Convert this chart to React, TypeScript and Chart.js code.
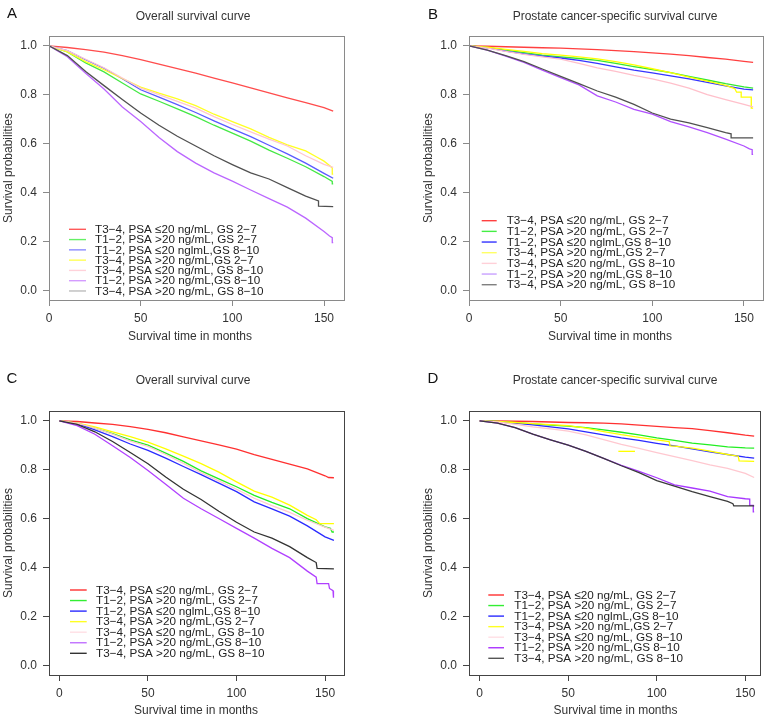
import React, { useEffect, useRef } from "react";
import { Chart, registerables } from "chart.js";

Chart.register(...registerables);

type Pt = [number, number];

// ---------- data ----------
const seriesLabels = [
  "T3−4, PSA ≤20 ng/mL, GS 2−7",
  "T1−2, PSA >20 ng/mL, GS 2−7",
  "T1−2, PSA ≤20 nglmL,GS 8−10",
  "T3−4, PSA >20 ng/mL,GS 2−7",
  "T3−4, PSA ≤20 ng/mL, GS 8−10",
  "T1−2, PSA >20 ng/mL,GS 8−10",
  "T3−4, PSA >20 ng/mL, GS 8−10",
];
const xTicks = [0, 50, 100, 150];
const yTicks = [0, 0.2, 0.4, 0.6, 0.8, 1.0];
const titleOS = "Overall survival curve";
const titlePCSS = "Prostate cancer-specific survival curve";
const xAxisTitle = "Survival time in months";
const yAxisTitle = "Survival probabilities";

// Panel A (overall survival)
const aRed: Pt[] = [[0,1],[10,0.993],[20,0.984],[30,0.974],[40,0.96],[50,0.943],[60,0.925],[70,0.907],[80,0.888],[90,0.868],[100,0.848],[110,0.828],[120,0.807],[130,0.787],[140,0.767],[150,0.747],[155,0.733]];
const aGreen: Pt[] = [[0,1],[10,0.975],[20,0.93],[30,0.893],[40,0.848],[50,0.803],[60,0.773],[70,0.742],[80,0.71],[90,0.675],[100,0.643],[110,0.61],[120,0.573],[130,0.54],[140,0.505],[150,0.465],[154.5,0.445],[154.5,0.435],[155,0.435]];
const aBlue: Pt[] = [[0,1],[10,0.98],[20,0.943],[30,0.908],[40,0.865],[50,0.82],[60,0.79],[70,0.759],[80,0.727],[90,0.693],[100,0.66],[110,0.628],[120,0.593],[130,0.558],[140,0.52],[150,0.478],[155,0.458]];
const aYellow: Pt[] = [[0,1],[10,0.975],[20,0.935],[30,0.902],[40,0.866],[50,0.831],[60,0.806],[70,0.783],[80,0.755],[90,0.72],[100,0.69],[110,0.66],[120,0.625],[130,0.595],[140,0.57],[146,0.545],[150,0.528],[153,0.51],[154.5,0.5],[154.5,0.475],[155,0.475]];
const aPink: Pt[] = [[0,1],[10,0.98],[20,0.945],[30,0.91],[40,0.868],[50,0.827],[60,0.8],[70,0.773],[80,0.745],[90,0.71],[100,0.678],[110,0.648],[120,0.618],[130,0.59],[140,0.55],[150,0.515],[155,0.503]];
const aPurple: Pt[] = [[0,1],[10,0.955],[20,0.888],[30,0.823],[40,0.75],[50,0.69],[60,0.625],[70,0.567],[80,0.52],[90,0.48],[100,0.446],[110,0.41],[120,0.375],[130,0.34],[140,0.295],[150,0.24],[153,0.222],[154.5,0.215],[154.5,0.195],[155,0.195]];
const aBlack: Pt[] = [[0,1],[10,0.96],[20,0.895],[30,0.837],[40,0.78],[50,0.725],[60,0.675],[70,0.63],[80,0.59],[90,0.55],[100,0.514],[110,0.48],[120,0.455],[130,0.42],[140,0.385],[147,0.365],[147,0.344],[155,0.342]];

// Panel B (prostate cancer-specific survival)
const bRed: Pt[] = [[0,1],[10,0.998],[20,0.996],[30,0.994],[40,0.992],[50,0.99],[60,0.987],[70,0.984],[80,0.98],[90,0.976],[100,0.971],[110,0.966],[120,0.96],[130,0.952],[140,0.945],[150,0.936],[155,0.932]];
const bGreen: Pt[] = [[0,1],[10,0.993],[20,0.982],[30,0.972],[40,0.962],[50,0.955],[60,0.948],[70,0.94],[80,0.928],[90,0.915],[100,0.903],[110,0.89],[120,0.875],[130,0.86],[140,0.845],[150,0.832],[155,0.827]];
const bBlue: Pt[] = [[0,1],[10,0.992],[20,0.978],[30,0.967],[40,0.958],[50,0.95],[60,0.94],[70,0.928],[80,0.914],[90,0.9],[100,0.889],[110,0.877],[120,0.865],[130,0.85],[140,0.836],[150,0.823],[155,0.82]];
const bYellow: Pt[] = [[0,1],[10,0.994],[20,0.985],[30,0.977],[40,0.968],[50,0.962],[60,0.955],[70,0.946],[80,0.935],[90,0.922],[100,0.906],[110,0.89],[120,0.872],[130,0.855],[140,0.838],[145,0.825],[146,0.81],[148.5,0.81],[148.5,0.79],[154,0.79],[154,0.745],[155,0.745]];
const bPink: Pt[] = [[0,1],[10,0.99],[20,0.977],[30,0.965],[40,0.955],[50,0.945],[60,0.928],[70,0.91],[80,0.895],[90,0.879],[100,0.865],[110,0.847],[120,0.827],[130,0.8],[140,0.78],[150,0.76],[155,0.75]];
const bPurple: Pt[] = [[0,1],[10,0.982],[20,0.958],[30,0.932],[40,0.9],[50,0.87],[60,0.84],[70,0.795],[80,0.77],[90,0.74],[100,0.72],[110,0.69],[120,0.668],[130,0.645],[140,0.618],[150,0.59],[153,0.578],[154.5,0.575],[154.5,0.556],[155,0.556]];
const bBlack: Pt[] = [[0,1],[10,0.982],[20,0.96],[30,0.935],[40,0.905],[50,0.875],[60,0.845],[70,0.815],[80,0.79],[90,0.76],[100,0.725],[110,0.7],[120,0.685],[130,0.665],[140,0.645],[143,0.64],[143,0.623],[155,0.623]];

// Panel C (overall survival)
const cRed: Pt[] = [[0,1],[10,0.997],[20,0.991],[30,0.985],[40,0.976],[50,0.965],[60,0.951],[70,0.934],[80,0.918],[90,0.901],[100,0.884],[110,0.862],[120,0.842],[130,0.823],[140,0.803],[150,0.775],[152,0.768],[155,0.767]];
const cGreen: Pt[] = [[0,1],[10,0.99],[20,0.97],[30,0.947],[40,0.922],[50,0.9],[60,0.868],[70,0.834],[80,0.795],[90,0.762],[100,0.73],[110,0.695],[120,0.666],[130,0.64],[140,0.6],[150,0.566],[153,0.56],[154,0.545],[155,0.545]];
const cBlue: Pt[] = [[0,1],[10,0.988],[20,0.963],[30,0.935],[40,0.905],[50,0.879],[60,0.847],[70,0.813],[80,0.78],[90,0.745],[100,0.71],[110,0.668],[120,0.64],[130,0.61],[140,0.57],[150,0.525],[155,0.511]];
const cYellow: Pt[] = [[0,1],[10,0.99],[20,0.975],[30,0.955],[40,0.935],[50,0.913],[60,0.885],[70,0.855],[80,0.825],[90,0.79],[100,0.75],[110,0.712],[120,0.688],[130,0.655],[140,0.613],[145,0.595],[147,0.579],[155,0.579]];
const cPink: Pt[] = [[0,1],[10,0.99],[20,0.97],[30,0.945],[40,0.917],[50,0.895],[60,0.862],[70,0.826],[80,0.788],[90,0.754],[100,0.72],[110,0.683],[120,0.653],[130,0.625],[140,0.593],[150,0.565],[155,0.552]];
const cPurple: Pt[] = [[0,1],[10,0.98],[20,0.945],[30,0.898],[40,0.85],[50,0.797],[60,0.74],[70,0.683],[80,0.64],[90,0.6],[100,0.56],[110,0.52],[120,0.478],[130,0.44],[140,0.385],[145,0.36],[145.5,0.334],[152,0.334],[152.5,0.314],[154.5,0.305],[154.5,0.276],[155,0.276]];
const cBlack: Pt[] = [[0,1],[10,0.985],[20,0.955],[30,0.915],[40,0.87],[50,0.824],[60,0.77],[70,0.72],[80,0.678],[90,0.63],[100,0.585],[110,0.545],[120,0.52],[130,0.485],[140,0.44],[145,0.42],[145.5,0.396],[155,0.394]];

// Panel D (prostate cancer-specific survival)
const dRed: Pt[] = [[0,1],[10,0.999],[20,0.998],[30,0.997],[40,0.995],[50,0.993],[60,0.992],[70,0.99],[80,0.987],[90,0.982],[100,0.977],[110,0.972],[120,0.968],[130,0.96],[140,0.951],[150,0.941],[155,0.937]];
const dGreen: Pt[] = [[0,1],[10,0.997],[20,0.992],[30,0.987],[40,0.982],[50,0.978],[60,0.972],[70,0.963],[80,0.953],[90,0.942],[100,0.93],[110,0.92],[120,0.909],[130,0.901],[140,0.893],[150,0.889],[155,0.888]];
const dBlue: Pt[] = [[0,1],[10,0.996],[20,0.99],[30,0.983],[40,0.975],[50,0.967],[60,0.955],[70,0.942],[80,0.93],[90,0.92],[100,0.908],[110,0.897],[120,0.885],[130,0.873],[140,0.862],[150,0.851],[155,0.847]];
const dYellow: Pt[] = [[0,1],[10,0.997],[20,0.993],[30,0.988],[40,0.984],[50,0.98],[60,0.97],[70,0.956],[80,0.943],[90,0.932],[100,0.922],[107,0.915],[107.5,0.897],[110,0.896],[120,0.888],[130,0.876],[140,0.862],[146,0.855],[146.5,0.836],[155,0.834]];
const dYellowFragment: Pt[] = [[78.3,0.875],[87.7,0.875]];
const dPink: Pt[] = [[0,1],[10,0.995],[20,0.985],[30,0.975],[40,0.967],[50,0.958],[60,0.942],[70,0.923],[80,0.903],[90,0.887],[100,0.87],[110,0.853],[120,0.837],[130,0.82],[140,0.805],[150,0.785],[155,0.768]];
const dPurple: Pt[] = [[0,1],[10,0.99],[20,0.972],[30,0.945],[40,0.922],[50,0.9],[60,0.875],[70,0.846],[80,0.818],[90,0.793],[100,0.767],[110,0.738],[120,0.725],[130,0.712],[140,0.69],[150,0.681],[152.5,0.68],[152.5,0.654],[154.5,0.654],[154.5,0.627],[155,0.627]];
const dBlack: Pt[] = [[0,1],[10,0.99],[20,0.972],[30,0.945],[40,0.922],[50,0.9],[60,0.875],[70,0.846],[80,0.816],[90,0.788],[100,0.755],[110,0.733],[120,0.71],[130,0.69],[140,0.67],[143,0.661],[143.5,0.652],[155,0.652]];

// ---------- styling ----------
const FONT = '"Liberation Sans", Arial, Helvetica, sans-serif';

type PanelCfg = {
  left: number; top: number; w: number; h: number;
  letter: string; title: string;
  series: Pt[][]; extra?: { pts: Pt[]; color: string }[];
  curveColors: string[]; legendColors: string[];
  xMin: number; xMax: number;
  padL: number; padR: number; padT: number; yAxisW: number; xAxisH: number;
  boxColor: string;
  letterPos: [number, number]; titlePos: [number, number];
  xTitlePos: [number, number]; yTitlePos: [number, number];
  legend: { x1: number; x2: number; tx: number; y0: number; dy: number };
};

const panels: PanelCfg[] = [
  {
    left: 0, top: 0, w: 382, h: 360, letter: "A", title: titleOS,
    series: [aRed, aGreen, aBlue, aYellow, aPink, aPurple, aBlack],
    curveColors: ["#ff4c4c", "#44e844", "#5a5aff", "#ffff22", "#ffc6d0", "#bb66ff", "#505050"],
    legendColors: ["#ff5a5a", "#66f066", "#8c8cff", "#ffff55", "#ffd2da", "#d49cff", "#bdbdbd"],
    xMin: 0, xMax: 160.9, padL: 0, padR: 38, padT: 36, yAxisW: 49, xAxisH: 60,
    boxColor: "#8a8a8a",
    letterPos: [12, 14], titlePos: [193, 17], xTitlePos: [190, 337], yTitlePos: [9, 168],
    legend: { x1: 69, x2: 86, tx: 95, y0: 229.3, dy: 10.28 },
  },
  {
    left: 382, top: 0, w: 383, h: 360, letter: "B", title: titlePCSS,
    series: [bRed, bGreen, bBlue, bYellow, bPink, bPurple, bBlack],
    curveColors: ["#ff4040", "#33e833", "#3535ff", "#ffff00", "#ffc0cb", "#b050ff", "#505050"],
    legendColors: ["#ff4040", "#44ee44", "#3333ff", "#ffff66", "#ffd0d8", "#c8a0ff", "#808080"],
    xMin: 0, xMax: 160.4, padL: 0, padR: 2, padT: 36, yAxisW: 87, xAxisH: 60,
    boxColor: "#8a8a8a",
    letterPos: [51, 15], titlePos: [233, 17], xTitlePos: [228, 337], yTitlePos: [47, 168],
    legend: { x1: 99.7, x2: 114.7, tx: 124.7, y0: 220.7, dy: 10.67 },
  },
  {
    left: 0, top: 360, w: 382, h: 360, letter: "C", title: titleOS,
    series: [cRed, cGreen, cBlue, cYellow, cPink, cPurple, cBlack],
    curveColors: ["#ff3030", "#22ee22", "#2a2aff", "#ffff00", "#ffc8d0", "#b040ff", "#333333"],
    legendColors: ["#ff3030", "#33ee33", "#2a2aff", "#ffff22", "#ffdfe5", "#c070ff", "#333333"],
    xMin: -5.9, xMax: 160.7, padL: 0, padR: 38, padT: 51, yAxisW: 49, xAxisH: 45,
    boxColor: "#444444",
    letterPos: [12, 18.5], titlePos: [193, 21], xTitlePos: [196, 351], yTitlePos: [9, 183],
    legend: { x1: 70, x2: 86.7, tx: 96, y0: 230, dy: 10.55 },
  },
  {
    left: 382, top: 360, w: 383, h: 360, letter: "D", title: titlePCSS,
    series: [dRed, dGreen, dBlue, dYellow, dPink, dPurple, dBlack],
    extra: [{ pts: dYellowFragment, color: "#ffff00" }],
    curveColors: ["#ff3030", "#22ee22", "#2a2aff", "#ffff00", "#ffc8d0", "#a838ff", "#3a3a3a"],
    legendColors: ["#ff3030", "#33ee33", "#2a2aff", "#ffff22", "#ffdfe5", "#aa33ff", "#555555"],
    xMin: -6.04, xMax: 158.3, padL: 0, padR: 5, padT: 51, yAxisW: 87, xAxisH: 45,
    boxColor: "#444444",
    letterPos: [51, 18.5], titlePos: [233, 21], xTitlePos: [233.5, 351], yTitlePos: [47, 183],
    legend: { x1: 106.3, x2: 122, tx: 132.3, y0: 235, dy: 10.55 },
  },
];

const decorPlugin = {
  id: "panelDecor",
  afterDraw(chart: any, _args: any, opts: any) {
    const cfg: PanelCfg = opts.cfg;
    const ctx = chart.ctx as CanvasRenderingContext2D;
    const ca = chart.chartArea;
    ctx.save();
    // box
    ctx.strokeStyle = cfg.boxColor;
    ctx.lineWidth = 1;
    ctx.strokeRect(ca.left + 0.5, ca.top + 0.5, ca.right - ca.left, ca.bottom - ca.top);
    // texts
    ctx.textAlign = "center";
    ctx.textBaseline = "middle";
    ctx.fillStyle = "#111";
    ctx.font = `15px ${FONT}`;
    ctx.fillText(cfg.letter, cfg.letterPos[0], cfg.letterPos[1]);
    ctx.fillStyle = "#333";
    ctx.font = `12px ${FONT}`;
    ctx.fillText(cfg.title, cfg.titlePos[0], cfg.titlePos[1]);
    ctx.fillText(xAxisTitle, cfg.xTitlePos[0], cfg.xTitlePos[1]);
    ctx.save();
    ctx.translate(cfg.yTitlePos[0], cfg.yTitlePos[1]);
    ctx.rotate(-Math.PI / 2);
    ctx.fillText(yAxisTitle, 0, 0);
    ctx.restore();
    // legend
    const lg = cfg.legend;
    ctx.font = `11.7px ${FONT}`;
    ctx.textAlign = "left";
    ctx.fillStyle = "#222";
    seriesLabels.forEach((lab, i) => {
      const y = lg.y0 + i * lg.dy;
      ctx.strokeStyle = cfg.legendColors[i];
      ctx.lineWidth = 1.4;
      ctx.beginPath();
      ctx.moveTo(lg.x1, y);
      ctx.lineTo(lg.x2, y);
      ctx.stroke();
      ctx.fillText(lab, lg.tx, y + 0.5);
    });
    ctx.restore();
  },
};

function Panel({ cfg }: { cfg: PanelCfg }) {
  const ref = useRef<HTMLCanvasElement>(null);
  useEffect(() => {
    if (!ref.current) return;
    const tickColor = cfg.boxColor;
    const datasets: any[] = cfg.series.map((pts, i) => ({
      label: seriesLabels[i],
      data: pts.map(([x, y]) => ({ x, y })),
      borderColor: cfg.curveColors[i],
      borderWidth: 1.3,
      pointRadius: 0,
      fill: false,
      tension: 0,
      order: 20 - i,
    }));
    (cfg.extra || []).forEach((e) => {
      datasets.push({
        label: "",
        data: e.pts.map(([x, y]) => ({ x, y })),
        borderColor: e.color,
        borderWidth: 1.3,
        pointRadius: 0,
        fill: false,
        order: 0,
      });
    });
    const chart = new Chart(ref.current, {
      type: "line",
      data: { datasets },
      options: {
        animation: false,
        responsive: false,
        maintainAspectRatio: false,
        layout: { padding: { left: cfg.padL, right: cfg.padR, top: cfg.padT, bottom: 0 } },
        plugins: {
          legend: { display: false },
          tooltip: { enabled: false },
          title: { display: false },
          panelDecor: { cfg },
        } as any,
        scales: {
          x: {
            type: "linear",
            min: cfg.xMin,
            max: cfg.xMax,
            afterBuildTicks: (s: any) => { s.ticks = xTicks.map((v) => ({ value: v })); },
            afterFit: (s: any) => { s.height = cfg.xAxisH; },
            grid: { drawOnChartArea: false, drawTicks: true, tickLength: 6, color: tickColor },
            border: { display: false },
            ticks: {
              color: "#333",
              font: { size: 12, family: FONT },
              padding: 5,
              maxRotation: 0,
              autoSkip: false,
              callback: (v: any) => String(v),
            },
          },
          y: {
            type: "linear",
            min: -0.04,
            max: 1.04,
            afterBuildTicks: (s: any) => { s.ticks = yTicks.map((v) => ({ value: v })); },
            afterFit: (s: any) => { s.width = cfg.yAxisW; },
            grid: { drawOnChartArea: false, drawTicks: true, tickLength: 6, color: tickColor },
            border: { display: false },
            ticks: {
              color: "#333",
              font: { size: 12, family: FONT },
              padding: 6,
              autoSkip: false,
              callback: (v: any) => Number(v).toFixed(1),
            },
          },
        },
      } as any,
      plugins: [decorPlugin as any],
    });
    return () => chart.destroy();
  }, [cfg]);
  return (
    <canvas
      ref={ref}
      width={cfg.w}
      height={cfg.h}
      style={{ position: "absolute", left: cfg.left, top: cfg.top, width: cfg.w, height: cfg.h }}
    />
  );
}

export default function App() {
  return (
    <div style={{ position: "fixed", left: 0, top: 0, width: 765, height: 720, background: "#fff", overflow: "hidden" }}>
      {panels.map((p) => (
        <Panel key={p.letter} cfg={p} />
      ))}
    </div>
  );
}
